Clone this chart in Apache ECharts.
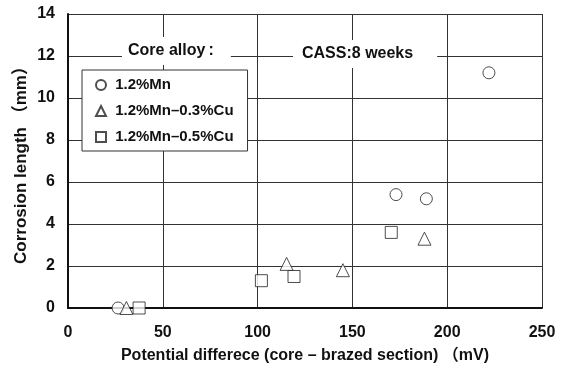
<!DOCTYPE html>
<html><head><meta charset="utf-8">
<script src="https://cdn.jsdelivr.net/npm/echarts@6/dist/echarts.min.js"></script>
<style>html,body{margin:0;padding:0;background:#fff}#c{width:568px;height:369px}</style>
</head><body><div id="c"></div>
<script>
const seriesNames = ['1.2%Mn', '1.2%Mn\u20130.3%Cu', '1.2%Mn\u20130.5%Cu'];
const mnX = [26.4, 173, 189, 222];
const mnY = [0, 5.4, 5.2, 11.2];
const cu03X = [30.8, 115.3, 145, 188];
const cu03Y = [0, 2.1, 1.8, 3.3];
const cu05X = [37.5, 102, 119.2, 170.5];
const cu05Y = [0, 1.3, 1.5, 3.6];
const xTicks = [0, 50, 100, 150, 200, 250];
const yTicks = [0, 2, 4, 6, 8, 10, 12, 14];

const FONT = '"Liberation Sans", Arial, "Noto Sans CJK JP", sans-serif';
const pair = (xs, ys) => xs.map((x, i) => [x, ys[i]]);
const symbols = ['circle', 'triangle', 'rect'];
const sizes = [12, 13, 12];
const datas = [pair(mnX, mnY), pair(cu03X, cu03Y), pair(cu05X, cu05Y)];

const chart = echarts.init(document.getElementById('c'), null, {renderer: 'canvas'});
chart.setOption({
  animation: false,
  backgroundColor: '#fff',
  grid: {left: 68, right: 26, top: 14, bottom: 61},
  xAxis: {
    type: 'value', min: xTicks[0], max: xTicks[xTicks.length - 1], interval: 50,
    name: 'Potential differece (core \u2013 brazed section) \uFF08mV)',
    nameLocation: 'middle', nameGap: 40, nameMoveOverlap: false,
    nameTextStyle: {fontFamily: FONT, fontWeight: 'bold', fontSize: 16, color: '#111'},
    axisLine: {lineStyle: {color: '#111', width: 2}},
    axisTick: {show: false},
    axisLabel: {fontFamily: FONT, fontWeight: 'bold', fontSize: 16, color: '#111', margin: 17},
    splitLine: {show: true, lineStyle: {color: '#333', width: 1}}
  },
  yAxis: {
    type: 'value', min: yTicks[0], max: yTicks[yTicks.length - 1], interval: 2,
    name: 'Corrosion length \uFF08mm\uFF09',
    nameLocation: 'middle', nameGap: 38, nameMoveOverlap: false,
    nameTextStyle: {fontFamily: FONT, fontWeight: 'bold', fontSize: 17, color: '#111'},
    axisLine: {show: true, lineStyle: {color: '#111', width: 2}},
    axisTick: {show: false},
    axisLabel: {fontFamily: FONT, fontWeight: 'bold', fontSize: 16, color: '#111', margin: 13},
    splitLine: {show: true, lineStyle: {color: '#333', width: 1}}
  },
  legend: {
    show: true, orient: 'vertical', left: 82, top: 70,
    padding: [7, 14, 6, 13],
    itemGap: 10, itemWidth: 10, itemHeight: 10,
    borderColor: '#333', borderWidth: 1, backgroundColor: '#fff',
    formatter: n => ' ' + n,
    textStyle: {fontFamily: FONT, fontWeight: 'bold', fontSize: 15, color: '#111', lineHeight: 16},
    data: seriesNames
  },
  graphic: [
    {type: 'text', left: 122, top: 37, z: 50,
     style: {text: 'Core alloy\u2009:', fontFamily: FONT, fontWeight: 'bold', fontSize: 16, fill: '#111',
       backgroundColor: '#fff', padding: [6, 17, 6, 6]}},
    {type: 'text', left: 293, top: 40, z: 50,
     style: {text: 'CASS:8 weeks', fontFamily: FONT, fontWeight: 'bold', fontSize: 16, fill: '#111',
       backgroundColor: '#fff', padding: [6, 24, 6, 9]}}
  ],
  series: datas.map((d, i) => ({
    name: seriesNames[i], type: 'scatter', data: d,
    symbol: symbols[i], symbolSize: sizes[i],
    itemStyle: {color: '#fff', borderColor: '#222', borderWidth: 1},
    z: 10
  }))
});
</script></body></html>
